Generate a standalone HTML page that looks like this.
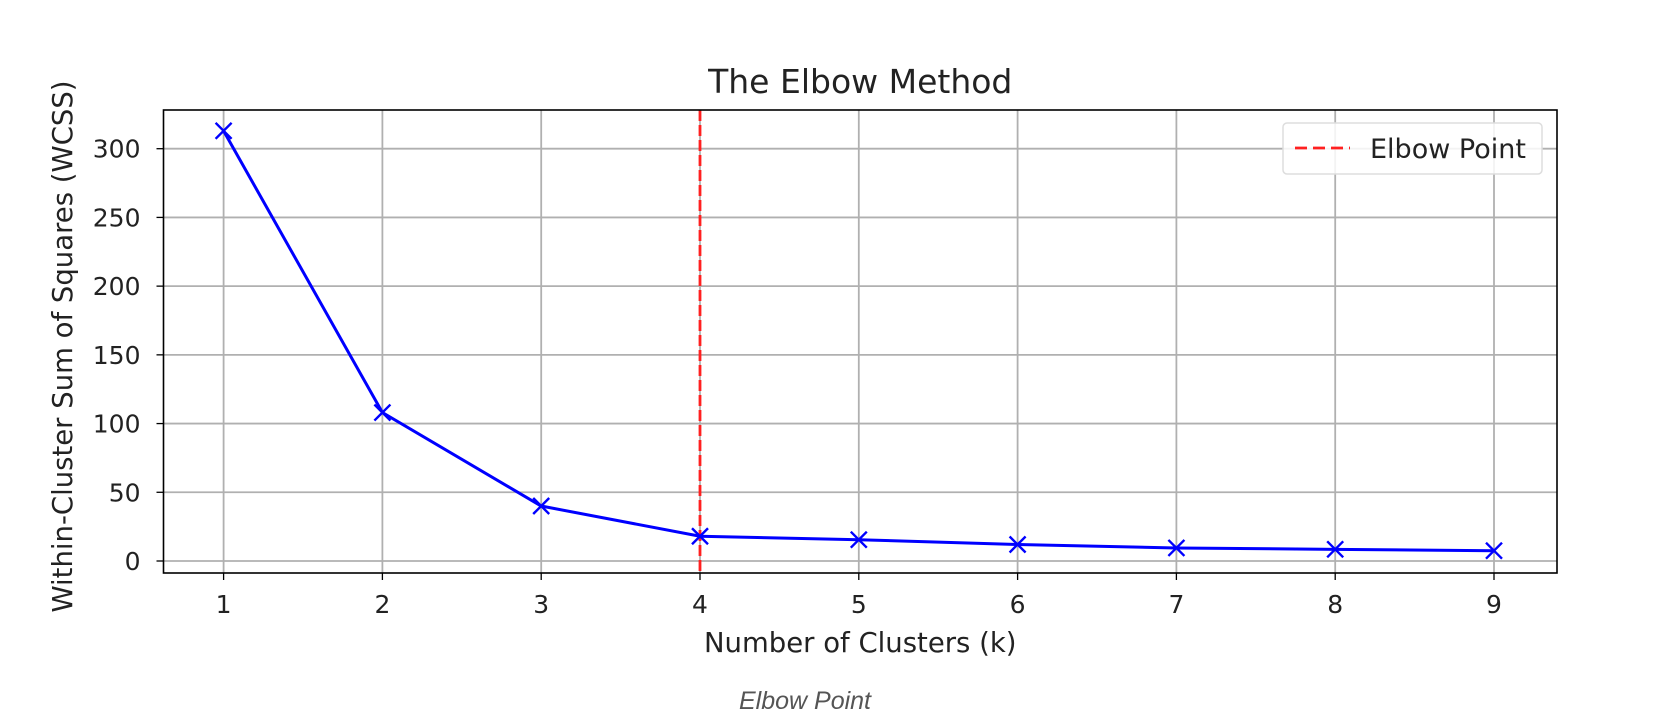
<!DOCTYPE html>
<html><head><meta charset="utf-8"><style>
html,body{margin:0;padding:0;background:#fff;}
svg{display:block;font-family:"DejaVu Sans","Liberation Sans",sans-serif;}
</style></head><body>
<svg id="chart" width="1654" height="726" viewBox="0 0 1654 726"></svg>
<script>
const categories=[1,2,3,4,5,6,7,8,9];
const wcssValues=[313,108,40,18,15.5,12,9.5,8.5,7.5];
const yTicks=[0,50,100,150,200,250,300];
const elbowK=4;
const svg=document.getElementById('chart');
const NS='http://www.w3.org/2000/svg';
const L=163.5,R=1557,T=110,B=573;
const xs=k=>223.6+(k-1)*(1494-223.6)/8;
const ys=v=>561-v*(561-148.7)/300;
function mk(tag,attrs,parent){const e=document.createElementNS(NS,tag);for(const k in attrs)e.setAttribute(k,attrs[k]);(parent||svg).appendChild(e);return e;}
const grid=mk('g',{});


categories.forEach(k=>{
  const l=mk('line',{x1:xs(k),x2:xs(k),y1:T,y2:B,stroke:'#b0b0b0','stroke-width':1.8},grid);
  
  
  const t=mk('line',{x1:xs(k),x2:xs(k),y1:B,y2:B+7,stroke:'#000','stroke-width':1.3});
  
  
  const tx=mk('text',{x:xs(k),y:B+40,'text-anchor':'middle','font-size':25,fill:'#222'});
  tx.textContent=k;
  
  
});
yTicks.forEach(v=>{
  const l=mk('line',{x1:L,x2:R,y1:ys(v),y2:ys(v),stroke:'#b0b0b0','stroke-width':1.8},grid);
  
  
  const t=mk('line',{x1:L-7,x2:L,y1:ys(v),y2:ys(v),stroke:'#000','stroke-width':1.3});
  
  
  const tx=mk('text',{x:L-23,y:ys(v)+9,'text-anchor':'end','font-size':25,fill:'#222'});
  tx.textContent=v;
  
  
});
const vl=mk('line',{x1:xs(elbowK),x2:xs(elbowK),y1:T,y2:B,stroke:'#ff2020','stroke-width':2.8,'stroke-dasharray':'11 4'});


const pl=mk('polyline',{points:categories.map((k,i)=>xs(k)+','+ys(wcssValues[i])).join(' '),fill:'none',stroke:'#0000ff','stroke-width':3});


categories.forEach((k,i)=>{
  const x=xs(k),y=ys(wcssValues[i]),s=8;
  const m=mk('path',{d:`M${x-s},${y-s}L${x+s},${y+s}M${x-s},${y+s}L${x+s},${y-s}`,stroke:'#0000ff','stroke-width':2.4,fill:'none'});
  
  
});
const fr=mk('rect',{x:L,y:T,width:R-L,height:B-T,fill:'none',stroke:'#000','stroke-width':1.6});


const lg=mk('g',{});


mk('rect',{x:1283,y:123,width:259,height:51,rx:4,fill:'#fff','fill-opacity':0.85,stroke:'#ddd','stroke-width':1.5},lg);
const ll=mk('line',{x1:1295,x2:1350,y1:148,y2:148,stroke:'#ff2020','stroke-width':2.8,'stroke-dasharray':'12 6'},lg);


const lt=mk('text',{x:1370,y:158,'font-size':27,fill:'#222'},lg);
lt.textContent='Elbow Point';


const ti=mk('text',{x:(L+R)/2,y:93,'text-anchor':'middle','font-size':33,fill:'#222'});
ti.textContent='The Elbow Method';


const xt=mk('text',{x:(L+R)/2,y:652,'text-anchor':'middle','font-size':27.5,fill:'#222'});
xt.textContent='Number of Clusters (k)';


const yt=mk('text',{x:0,y:0,'text-anchor':'middle','font-size':27.5,fill:'#222',transform:`translate(72,${(T+B)/2+5}) rotate(-90)`});
yt.textContent='Within-Cluster Sum of Squares (WCSS)';


const cap=mk('text',{x:805,y:709,'text-anchor':'middle','font-size':25,'font-style':'italic',fill:'#555','font-family':'"Liberation Sans",sans-serif'});
cap.textContent='Elbow Point';


</script>
</body></html>
